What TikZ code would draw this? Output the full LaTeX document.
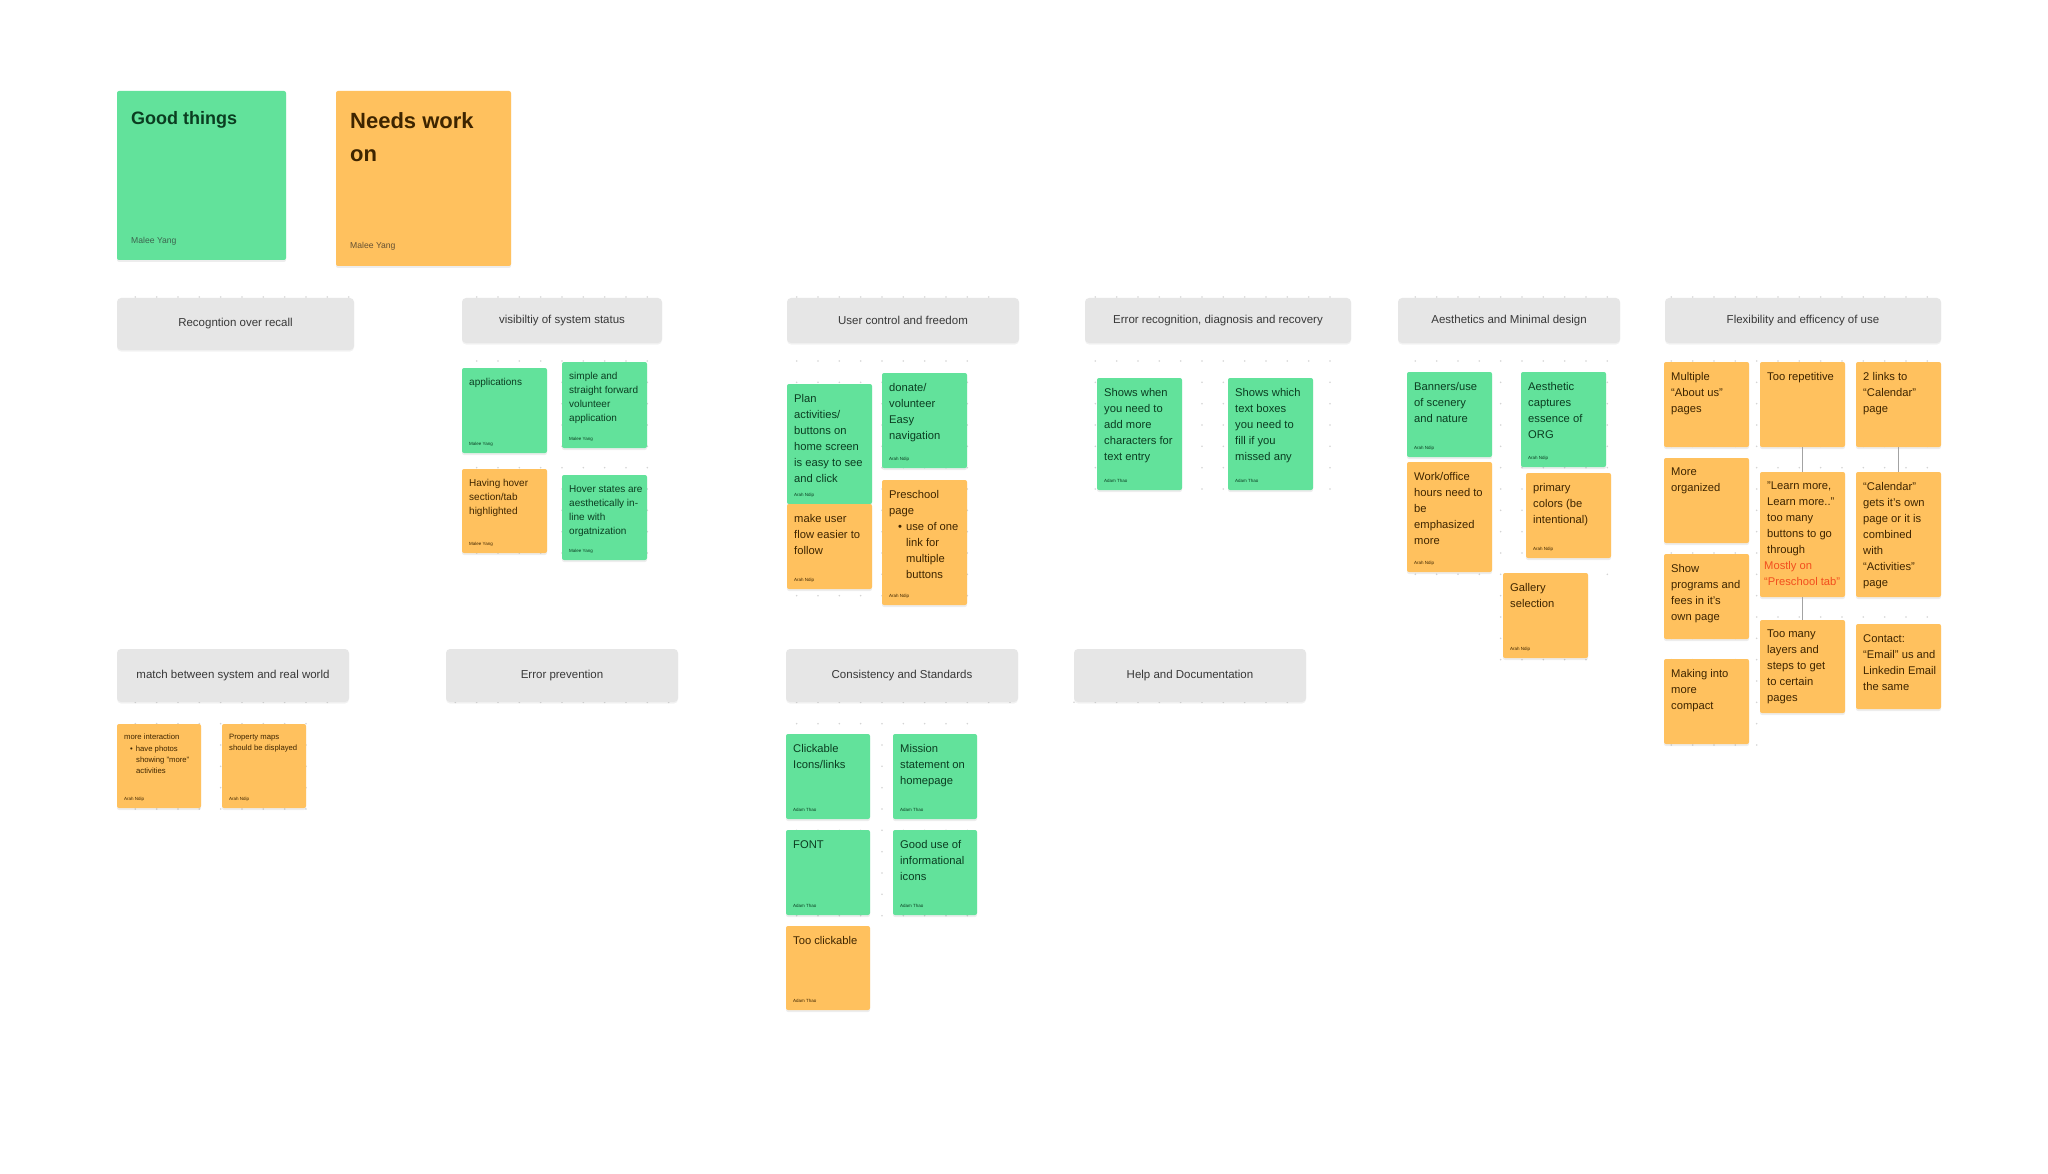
\documentclass[tikz,border=0pt]{standalone}
\usepackage{fontspec}
\setmainfont{Liberation Sans}
\usetikzlibrary{calc}
\definecolor{sgreen}{HTML}{62E29B}
\definecolor{sorange}{HTML}{FFC15E}
\definecolor{hgray}{HTML}{E6E6E6}
\definecolor{gtext}{HTML}{0B3D21}
\definecolor{otext}{HTML}{3E2500}
\definecolor{redtext}{HTML}{F24E1E}
\definecolor{dotc}{HTML}{D4D4D4}
\definecolor{connc}{HTML}{A3A3A3}
\tikzset{
  card/.style={rounded corners=2pt, inner sep=0pt, outer sep=0pt,
    preaction={fill=black, fill opacity=0.07, transform canvas={yshift=-2pt}}},
  gcard/.style={card, fill=sgreen},
  ocard/.style={card, fill=sorange},
  header/.style={rounded corners=4pt, fill=hgray, inner sep=0pt, outer sep=0pt, text=black!78,
    font=\fontsize{11.5}{14}\selectfont,
    preaction={fill=black, fill opacity=0.05, transform canvas={yshift=-1.5pt}}},
  gt/.style={inner sep=0pt, align=left, text=gtext},
  ot/.style={inner sep=0pt, align=left, text=otext},
  fsa/.style={font=\fontsize{10}{14}\selectfont},
  fsb/.style={font=\fontsize{11.2}{16}\selectfont},
  fsc/.style={font=\fontsize{7.7}{11.3}\selectfont},
  conn/.style={draw=connc, line width=1.5pt},
}
% name, x, y, w, h, card style, text style, text, author
\newcommand{\stickyN}[9]{%
  \node[#6, minimum width=#4pt, minimum height=#5pt, anchor=north west] (#1) at (#2,#3) {};
  \node[#7, anchor=north west] (#1-t) at ([xshift=7pt,yshift=-10pt]#1.north west) {#8};
  \node[#7, font=\fontsize{4.5}{5}\selectfont, anchor=base west] (#1-a) at ([xshift=7pt,yshift=8pt]#1.south west) {#9};
}
\newcommand{\dotgrid}[4]{%
  \foreach \i in {#1,...,#2}{\foreach \j in {#3,...,#4}{%
    \fill[dotc] ({455.33+21.333*\i},{297+21.333*\j}) circle (0.9pt);}}}
\begin{document}
\begin{tikzpicture}[x=1pt, y=-1pt]
\fill[white] (0,0) rectangle (2048,1174);
\useasboundingbox (0,0) rectangle (2048,1174);

% dot grids of the sections
\dotgrid{-15}{-5}{0}{0}
\dotgrid{1}{9}{0}{12}
\dotgrid{16}{25}{0}{0}
\dotgrid{16}{24}{3}{14}
\dotgrid{30}{41}{0}{0}
\dotgrid{30}{41}{3}{9}
\dotgrid{45}{54}{0}{0}
\dotgrid{45}{54}{3}{13}
\dotgrid{49}{53}{14}{17}
\dotgrid{57}{69}{0}{0}
\dotgrid{57}{69}{3}{17}
\dotgrid{57}{61}{18}{21}
\dotgrid{-15}{-6}{19}{19}
\dotgrid{-15}{-7}{20}{24}
\dotgrid{0}{10}{19}{19}
\dotgrid{16}{26}{19}{19}
\dotgrid{16}{24}{20}{29}
\dotgrid{29}{39}{19}{19}

% title cards
\node[gcard, minimum width=169pt, minimum height=169pt, anchor=north west] (good) at (117,91) {};
\node[gt, font=\bfseries\fontsize{18}{24}\selectfont, anchor=north west] (good-t) at (131,111) {Good things};
\node[gt, font=\fontsize{8.6}{10}\selectfont, text=gtext!80, anchor=base west] (good-a) at (131,244) {Malee Yang};
\node[ocard, minimum width=175pt, minimum height=175pt, anchor=north west] (needs) at (336,91) {};
\node[ot, font=\bfseries\fontsize{22}{33}\selectfont, anchor=north west] (needs-t) at (350,112) {Needs work\\on};
\node[ot, font=\fontsize{8.6}{10}\selectfont, text=otext!80, anchor=base west] (needs-a) at (350,249) {Malee Yang};

% headers
\node[header, minimum width=237pt, minimum height=52pt, anchor=north west] (hrec) at (117,298) {Recogntion over recall};
\node[header, minimum width=200pt, minimum height=45pt, anchor=north west] (hvis) at (462,298) {visibiltiy of system status};
\node[header, minimum width=232pt, minimum height=45pt, anchor=north west] (huser) at (787,298) {User control and freedom};
\node[header, minimum width=266pt, minimum height=45pt, anchor=north west] (herr) at (1085,298) {Error recognition, diagnosis and recovery};
\node[header, minimum width=222pt, minimum height=45pt, anchor=north west] (haes) at (1398,298) {Aesthetics and Minimal design};
\node[header, minimum width=276pt, minimum height=45pt, anchor=north west] (hflex) at (1665,298) {Flexibility and efficency of use};
\node[header, minimum width=232pt, minimum height=53pt, anchor=north west] (hmatch) at (117,649) {match between system and real world};
\node[header, minimum width=232pt, minimum height=53pt, anchor=north west] (hprev) at (446,649) {Error prevention};
\node[header, minimum width=232pt, minimum height=53pt, anchor=north west] (hcons) at (786,649) {Consistency and Standards};
\node[header, minimum width=232pt, minimum height=53pt, anchor=north west] (hhelp) at (1074,649) {Help and Documentation};

% visibility of system status
\stickyN{v1}{462}{368}{85}{85}{gcard}{gt,fsa}{applications}{Malee Yang}
\stickyN{v2}{562}{362}{85}{86}{gcard}{gt,fsa}{simple and\\straight forward\\volunteer\\application}{Malee Yang}
\stickyN{v3}{462}{469}{85}{84}{ocard}{ot,fsa}{Having hover\\section/tab\\highlighted}{Malee Yang}
\stickyN{v4}{562}{475}{85}{85}{gcard}{gt,fsa}{Hover states are\\aesthetically in-\\line with\\orgatnization}{Malee Yang}

% user control and freedom
\stickyN{u1}{787}{384}{85}{120}{gcard}{gt,fsb}{Plan\\activities/\\buttons on\\home screen\\is easy to see\\and click}{Arah Ndip}
\stickyN{u2}{787}{504}{85}{85}{ocard}{ot,fsb}{make user\\flow easier to\\follow}{Arah Ndip}
\stickyN{u3}{882}{373}{85}{95}{gcard}{gt,fsb}{donate/\\volunteer\\Easy\\navigation}{Arah Ndip}
\stickyN{u4}{882}{480}{85}{125}{ocard}{ot,fsb}{Preschool\\page\\\hspace*{9pt}\textbullet\hspace{4pt}use of one\\\hspace*{17pt}link for\\\hspace*{17pt}multiple\\\hspace*{17pt}buttons}{Arah Ndip}

% error recognition
\stickyN{e1}{1097}{378}{85}{112}{gcard}{gt,fsb}{Shows when\\you need to\\add more\\characters for\\text entry}{Adam Thao}
\stickyN{e2}{1228}{378}{85}{112}{gcard}{gt,fsb}{Shows which\\text boxes\\you need to\\fill if you\\missed any}{Adam Thao}

% aesthetics
\stickyN{a1}{1407}{372}{85}{85}{gcard}{gt,fsb}{Banners/use\\of scenery\\and nature}{Arah Ndip}
\stickyN{a2}{1521}{372}{85}{95}{gcard}{gt,fsb}{Aesthetic\\captures\\essence of\\ORG}{Arah Ndip}
\stickyN{a3}{1407}{462}{85}{110}{ocard}{ot,fsb}{Work/office\\hours need to\\be\\emphasized\\more}{Arah Ndip}
\stickyN{a4}{1526}{473}{85}{85}{ocard}{ot,fsb}{primary\\colors (be\\intentional)}{Arah Ndip}
\stickyN{a5}{1503}{573}{85}{85}{ocard}{ot,fsb}{Gallery\\selection}{Arah Ndip}

% flexibility
\stickyN{f1}{1664}{362}{85}{85}{ocard}{ot,fsb}{Multiple\\“About us”\\pages}{}
\stickyN{f2}{1760}{362}{85}{85}{ocard}{ot,fsb}{Too repetitive}{}
\stickyN{f3}{1856}{362}{85}{85}{ocard}{ot,fsb}{2 links to\\“Calendar”\\page}{}
\stickyN{f4}{1664}{458}{85}{85}{ocard}{ot,fsb}{More\\organized}{}
\stickyN{f5}{1760}{472}{85}{125}{ocard}{ot,fsb}{"Learn more,\\Learn more.."\\too many\\buttons to go\\through\\\hspace*{-3pt}\textcolor{redtext}{Mostly on}\\\hspace*{-3pt}\textcolor{redtext}{“Preschool tab”}}{}
\stickyN{f6}{1856}{472}{85}{125}{ocard}{ot,fsb}{“Calendar”\\gets it's own\\page or it is\\combined\\with\\“Activities”\\page}{}
\stickyN{f7}{1664}{554}{85}{85}{ocard}{ot,fsb}{Show\\programs and\\fees in it's\\own page}{}
\stickyN{f8}{1760}{620}{85}{93}{ocard}{ot,fsb}{Too many\\layers and\\steps to get\\to certain\\pages}{}
\stickyN{f9}{1856}{624}{85}{85}{ocard}{ot,fsb}{Contact:\\“Email” us and\\Linkedin Email\\the same}{}
\stickyN{f10}{1664}{659}{85}{85}{ocard}{ot,fsb}{Making into\\more\\compact}{}
\draw[conn] (f2.south) -- (f5.north);
\draw[conn] (f3.south) -- (f6.north);
\draw[conn] (f5.south) -- (f8.north);

% match between system and real world
\stickyN{m1}{117}{724}{84}{84}{ocard}{ot,fsc}{more interaction\\\hspace*{6pt}\textbullet\hspace{3pt}have photos\\\hspace*{12pt}showing "more"\\\hspace*{12pt}activities}{Arah Ndip}
\stickyN{m2}{222}{724}{84}{84}{ocard}{ot,fsc}{Property maps\\should be displayed}{Arah Ndip}

% consistency and standards
\stickyN{c1}{786}{734}{84}{85}{gcard}{gt,fsb}{Clickable\\Icons/links}{Adam Thao}
\stickyN{c2}{893}{734}{84}{85}{gcard}{gt,fsb}{Mission\\statement on\\homepage}{Adam Thao}
\stickyN{c3}{786}{830}{84}{85}{gcard}{gt,fsb}{FONT}{Adam Thao}
\stickyN{c4}{893}{830}{84}{85}{gcard}{gt,fsb}{Good use of\\informational\\icons}{Adam Thao}
\stickyN{c5}{786}{926}{84}{84}{ocard}{ot,fsb}{Too clickable}{Adam Thao}
\end{tikzpicture}
\end{document}
